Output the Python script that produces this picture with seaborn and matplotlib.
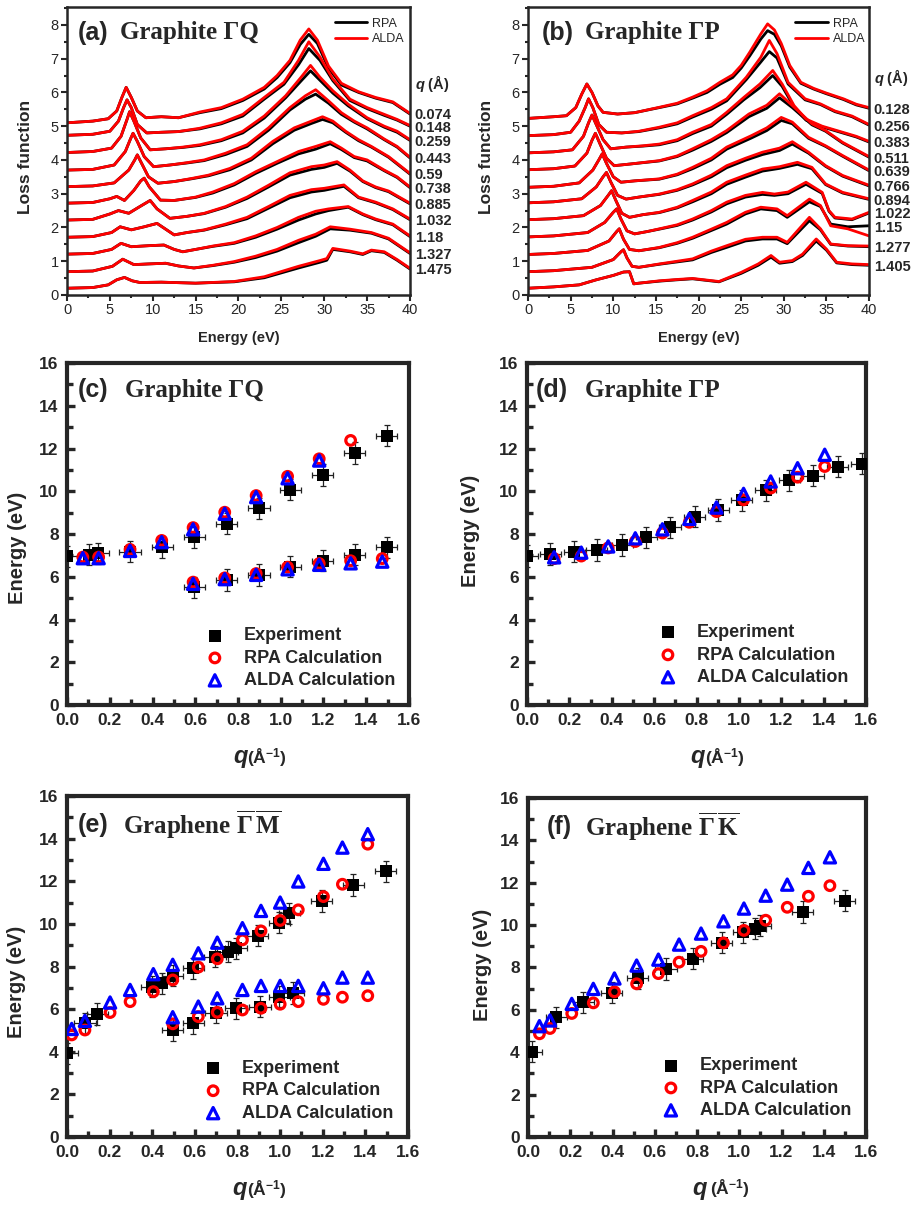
import numpy as np
import pandas as pd
import matplotlib
matplotlib.use("Agg")
import matplotlib.pyplot as plt
from matplotlib.lines import Line2D
from matplotlib.ticker import MultipleLocator
import seaborn as sns

sns.set_style("ticks")
plt.rcParams["font.family"] = ["Liberation Sans", "DejaVu Sans"]
plt.rcParams["mathtext.fontset"] = "custom"
plt.rcParams["mathtext.rm"] = "Liberation Sans:bold"
plt.rcParams["mathtext.it"] = "Liberation Sans:italic:bold"
plt.rcParams["mathtext.bf"] = "Liberation Serif:bold"

# ------------------------------------------------------------------
# Loss spectra of graphite along Gamma-Q (stacked, values as plotted)
# ------------------------------------------------------------------
gq_q_labels = ["0.074", "0.148", "0.259", "0.443", "0.59", "0.738",
               "0.885", "1.032", "1.18", "1.327", "1.475"]
gq_energy = [
    [0, 3, 4.8, 5.8, 6.4, 6.9, 7.5, 8.2, 9.2, 11, 13, 15.5, 18, 20.5, 23, 24.5, 26, 27.2, 28.2, 29.2, 30.5, 32, 34, 36, 38, 40],
    [0, 3, 5, 6, 6.6, 7.0, 7.5, 8.2, 9.3, 11, 13, 15.5, 18, 20.5, 23, 25.3, 27, 28.2, 29.5, 31, 33, 35, 37, 38.5, 40],
    [0, 3, 5.2, 6.3, 7.0, 7.3, 7.8, 8.6, 9.7, 11.5, 13.5, 15.5, 18, 20.5, 23, 25.5, 27.3, 28.4, 29.5, 31, 32.8, 35, 37, 38.5, 40],
    [0, 3, 5.5, 6.8, 7.4, 7.7, 8.2, 9.0, 10.1, 12, 14, 16, 18.5, 21, 23.5, 26, 27.8, 29.0, 30.5, 32, 33.5, 35, 37, 38.5, 40],
    [0, 3, 5.5, 7.2, 7.9, 8.2, 8.7, 9.5, 10.6, 12.5, 14.5, 16.5, 19, 21.5, 24, 26.5, 28.5, 29.8, 31, 32.5, 34, 35.5, 37.5, 40],
    [0, 3, 5.0, 5.8, 6.7, 7.8, 8.6, 9.0, 9.6, 10.9, 12.5, 15, 17, 19.5, 22, 24.5, 27, 29, 30.7, 32, 33.5, 35, 37, 38.5, 40],
    [0, 3, 5.0, 6.0, 7.2, 8.5, 9.7, 10.5, 12, 14, 16, 18.5, 21, 23.5, 26, 28.5, 30, 31.5, 33, 34.5, 36, 37.5, 40],
    [0, 3, 5.2, 6.2, 7.5, 9, 10.5, 11.5, 12.5, 14, 16, 18.5, 21, 23.5, 26, 28.5, 30, 32.3, 34, 36, 38, 40],
    [0, 3, 5.2, 6.3, 7.5, 9.5, 11.3, 12.5, 13.5, 15, 17, 19.5, 22, 24.5, 27, 29, 30.5, 32.8, 34.5, 36, 38, 40],
    [0, 3, 5.3, 6.5, 7.8, 9.5, 11.5, 13, 14.8, 17, 19.5, 22, 24.5, 27, 29, 30.7, 33, 35.5, 37.5, 40],
    [0, 3, 4.8, 5.8, 6.7, 7.6, 8.5, 11, 15, 19.5, 23, 27, 29.5, 30.3, 31, 33, 34.5, 35.5, 37, 38.5, 40],
]
gq_alda = [
    [5.10, 5.15, 5.22, 5.45, 5.85, 6.15, 5.85, 5.45, 5.25, 5.28, 5.25, 5.42, 5.55, 5.80, 6.15, 6.50, 6.95, 7.55, 7.88, 7.55, 6.78, 6.27, 6.02, 5.85, 5.72, 5.38],
    [4.73, 4.76, 4.85, 5.15, 5.55, 5.78, 5.55, 5.05, 4.80, 4.82, 4.84, 4.94, 5.10, 5.35, 5.85, 6.30, 6.95, 7.50, 7.05, 6.40, 5.80, 5.55, 5.35, 5.20, 5.02],
    [4.22, 4.25, 4.35, 4.70, 5.20, 5.43, 5.15, 4.65, 4.30, 4.33, 4.38, 4.45, 4.60, 4.85, 5.30, 5.90, 6.45, 6.80, 6.45, 6.05, 5.65, 5.25, 5.00, 4.85, 4.60],
    [3.70, 3.72, 3.85, 4.25, 4.62, 4.79, 4.55, 4.10, 3.80, 3.85, 3.92, 4.00, 4.20, 4.45, 4.95, 5.55, 5.90, 6.08, 5.75, 5.40, 5.15, 4.95, 4.62, 4.40, 4.08],
    [3.21, 3.23, 3.32, 3.70, 4.00, 4.15, 3.90, 3.50, 3.31, 3.36, 3.45, 3.55, 3.75, 4.05, 4.55, 4.95, 5.15, 5.28, 5.15, 4.85, 4.60, 4.40, 4.10, 3.60],
    [2.72, 2.74, 2.85, 2.92, 2.80, 3.10, 3.38, 3.46, 3.20, 2.81, 2.80, 2.90, 3.05, 3.30, 3.65, 3.95, 4.25, 4.40, 4.54, 4.35, 4.10, 4.00, 3.70, 3.50, 3.20],
    [2.22, 2.24, 2.40, 2.50, 2.42, 2.62, 2.80, 2.55, 2.27, 2.33, 2.42, 2.62, 2.90, 3.25, 3.62, 3.80, 3.85, 3.95, 3.70, 3.38, 3.20, 3.08, 2.72],
    [1.71, 1.73, 1.85, 2.02, 1.93, 2.02, 2.12, 1.95, 1.78, 1.85, 1.93, 2.10, 2.30, 2.62, 2.95, 3.12, 3.16, 3.26, 2.90, 2.75, 2.55, 2.25],
    [1.21, 1.23, 1.35, 1.53, 1.43, 1.46, 1.48, 1.35, 1.28, 1.35, 1.45, 1.55, 1.75, 2.00, 2.30, 2.48, 2.55, 2.62, 2.40, 2.25, 2.10, 1.75],
    [0.69, 0.71, 0.85, 1.06, 0.90, 0.92, 0.94, 0.86, 0.80, 0.88, 0.99, 1.15, 1.35, 1.62, 1.80, 2.02, 1.95, 1.85, 1.68, 1.25],
    [0.20, 0.22, 0.30, 0.45, 0.52, 0.42, 0.37, 0.38, 0.35, 0.40, 0.54, 0.85, 1.02, 1.08, 1.38, 1.30, 1.22, 1.33, 1.28, 1.05, 0.79],
]
gq_rpa = [
    [5.10, 5.15, 5.22, 5.45, 5.85, 6.15, 5.85, 5.45, 5.25, 5.28, 5.25, 5.40, 5.52, 5.76, 6.10, 6.44, 6.88, 7.42, 7.72, 7.45, 6.72, 6.22, 6.00, 5.83, 5.70, 5.36],
    [4.73, 4.76, 4.85, 5.15, 5.55, 5.78, 5.55, 5.05, 4.80, 4.82, 4.84, 4.92, 5.07, 5.30, 5.80, 6.24, 6.82, 7.30, 6.95, 6.35, 5.76, 5.52, 5.32, 5.18, 5.00],
    [4.22, 4.25, 4.35, 4.70, 5.20, 5.43, 5.15, 4.65, 4.30, 4.33, 4.37, 4.43, 4.57, 4.80, 5.24, 5.84, 6.34, 6.64, 6.36, 5.98, 5.60, 5.22, 4.97, 4.82, 4.58],
    [3.70, 3.72, 3.85, 4.25, 4.62, 4.79, 4.55, 4.10, 3.80, 3.85, 3.91, 3.98, 4.16, 4.40, 4.88, 5.48, 5.80, 5.95, 5.68, 5.35, 5.12, 4.92, 4.60, 4.38, 4.06],
    [3.21, 3.23, 3.32, 3.70, 4.00, 4.15, 3.90, 3.50, 3.31, 3.36, 3.44, 3.53, 3.71, 4.00, 4.48, 4.88, 5.08, 5.20, 5.10, 4.82, 4.57, 4.38, 4.08, 3.58],
    [2.72, 2.74, 2.85, 2.92, 2.80, 3.10, 3.38, 3.46, 3.20, 2.81, 2.80, 2.89, 3.02, 3.26, 3.60, 3.90, 4.18, 4.32, 4.48, 4.31, 4.07, 3.97, 3.68, 3.48, 3.18],
    [2.22, 2.24, 2.40, 2.50, 2.42, 2.62, 2.80, 2.55, 2.27, 2.33, 2.41, 2.60, 2.86, 3.20, 3.55, 3.72, 3.78, 3.90, 3.67, 3.36, 3.18, 3.06, 2.70],
    [1.71, 1.73, 1.85, 2.02, 1.93, 2.02, 2.12, 1.95, 1.78, 1.85, 1.92, 2.08, 2.26, 2.57, 2.88, 3.05, 3.10, 3.22, 2.88, 2.73, 2.53, 2.23],
    [1.21, 1.23, 1.35, 1.53, 1.43, 1.46, 1.48, 1.35, 1.28, 1.35, 1.44, 1.53, 1.71, 1.95, 2.22, 2.40, 2.50, 2.60, 2.38, 2.23, 2.08, 1.73],
    [0.69, 0.71, 0.85, 1.06, 0.90, 0.92, 0.94, 0.86, 0.80, 0.87, 0.97, 1.11, 1.30, 1.55, 1.74, 1.96, 1.92, 1.83, 1.66, 1.23],
    [0.20, 0.22, 0.30, 0.45, 0.52, 0.42, 0.37, 0.38, 0.35, 0.39, 0.51, 0.80, 0.97, 1.03, 1.35, 1.28, 1.20, 1.31, 1.26, 1.03, 0.77],
]

# ------------------------------------------------------------------
# Loss spectra of graphite along Gamma-P
# ------------------------------------------------------------------
gp_q_labels = ["0.128", "0.256", "0.383", "0.511", "0.639", "0.766",
               "0.894", "1.022", "1.15", "1.277", "1.405"]
gp_energy = [
    [0, 3, 4.5, 5.6, 6.3, 6.9, 7.5, 8.2, 8.8, 10.5, 12.5, 15.4, 17.5, 19.3, 21, 22.5, 24, 25, 26, 27.3, 28.1, 28.9, 29.7, 30.7, 32, 33.5, 35, 37, 38.5, 40],
    [0, 3, 5, 6, 6.7, 7.1, 7.6, 8.3, 9.2, 11, 13, 15.4, 17.5, 19.3, 21.5, 23.3, 25.6, 27.3, 28.3, 29.2, 30.5, 32.5, 34.3, 36, 38, 40],
    [0, 3, 5.2, 6.5, 7.1, 7.5, 8.0, 8.8, 9.7, 11.5, 13.5, 15.4, 17.5, 19.3, 21.5, 23.3, 25.3, 27.2, 28.7, 29.8, 31.2, 32.6, 34.5, 36.5, 38.5, 40],
    [0, 3, 5.5, 6.9, 7.5, 7.9, 8.4, 9.2, 10.1, 12, 15.4, 17.5, 19.3, 21.5, 23.3, 25.9, 28, 29.5, 31, 33.3, 34.9, 36.9, 40],
    [0, 3, 6, 7.6, 8.3, 8.7, 9.2, 10, 10.9, 12.5, 15.4, 17.5, 19.3, 21.5, 23.3, 26.2, 28, 29.7, 31, 32.9, 34.9, 36.9, 40],
    [0, 3, 6.3, 8.0, 8.8, 9.2, 9.7, 10.5, 11.5, 13, 15.4, 17.5, 19.3, 21.5, 23.3, 25.5, 27.5, 29.5, 31, 32.9, 34.9, 36.9, 40],
    [0, 3, 6.5, 8.5, 9.4, 9.8, 10.3, 11, 11.9, 13.5, 15.4, 17.5, 19.3, 21.5, 23.3, 25.5, 27.5, 29.5, 31.6, 33.3, 34.9, 36.9, 40],
    [0, 3, 7, 9, 10.0, 10.4, 10.9, 11.6, 12.5, 14, 15.4, 17.5, 19.3, 21.5, 23.3, 25.5, 27.5, 28.9, 30.5, 32.6, 34.5, 35.3, 36, 38, 40],
    [0, 3, 7, 9.5, 10.4, 10.7, 11.2, 11.9, 13, 15.4, 17.5, 19.3, 21.5, 23.3, 25.5, 27.3, 29.2, 30.4, 33, 34.3, 35.5, 37.5, 40],
    [0, 3, 7.5, 10, 10.9, 11.2, 11.6, 12.2, 13, 15.4, 17.5, 19.3, 21.5, 23.3, 25.5, 27.5, 29.2, 30.4, 33, 34.3, 35.5, 37.5, 40],
    [0, 3, 6, 8, 10, 11.2, 11.9, 12.4, 13, 15.4, 17.5, 19.3, 22.4, 25, 27, 28.5, 29.5, 31, 32.2, 33.8, 35, 36.2, 38, 40],
]
gp_alda = [
    [5.23, 5.28, 5.31, 5.55, 5.95, 6.25, 6.00, 5.60, 5.41, 5.36, 5.40, 5.56, 5.68, 5.86, 6.05, 6.30, 6.52, 6.80, 7.19, 7.73, 8.03, 7.85, 7.45, 6.80, 6.30, 6.12, 5.98, 5.81, 5.65, 5.55],
    [4.72, 4.75, 4.82, 5.15, 5.55, 5.81, 5.55, 5.05, 4.82, 4.80, 4.85, 4.97, 5.10, 5.31, 5.55, 5.81, 6.45, 7.04, 7.54, 7.15, 6.30, 5.81, 5.66, 5.45, 5.30, 5.05],
    [4.21, 4.24, 4.30, 4.70, 5.10, 5.33, 5.05, 4.60, 4.33, 4.38, 4.42, 4.47, 4.60, 4.82, 5.05, 5.41, 5.85, 6.25, 6.65, 6.25, 5.61, 5.21, 5.00, 4.85, 4.70, 4.55],
    [3.71, 3.74, 3.82, 4.20, 4.58, 4.79, 4.50, 4.05, 3.83, 3.88, 3.98, 4.12, 4.33, 4.60, 4.87, 5.36, 5.62, 5.96, 5.61, 5.07, 4.87, 4.52, 4.10],
    [3.19, 3.22, 3.32, 3.70, 4.00, 4.18, 3.90, 3.50, 3.34, 3.38, 3.44, 3.58, 3.78, 4.05, 4.38, 4.72, 4.95, 5.26, 5.12, 4.67, 4.42, 4.13, 3.70],
    [2.73, 2.76, 2.85, 3.20, 3.50, 3.63, 3.35, 2.95, 2.84, 2.90, 2.99, 3.12, 3.29, 3.55, 3.83, 4.05, 4.23, 4.35, 4.54, 4.23, 3.83, 3.54, 3.25],
    [2.23, 2.26, 2.35, 2.65, 2.95, 3.09, 2.80, 2.42, 2.30, 2.38, 2.45, 2.60, 2.80, 3.05, 3.34, 3.55, 3.73, 3.80, 3.93, 3.78, 3.29, 3.04, 2.85],
    [1.72, 1.75, 1.85, 2.15, 2.45, 2.55, 2.25, 1.90, 1.81, 1.88, 1.96, 2.08, 2.25, 2.50, 2.75, 2.95, 3.04, 2.99, 3.05, 3.34, 3.04, 2.50, 2.30, 2.25, 2.45],
    [1.20, 1.23, 1.32, 1.60, 1.88, 1.96, 1.65, 1.35, 1.31, 1.41, 1.55, 1.71, 1.95, 2.15, 2.45, 2.60, 2.55, 2.35, 2.84, 2.65, 2.05, 1.96, 1.75],
    [0.69, 0.72, 0.82, 1.05, 1.28, 1.34, 1.10, 0.85, 0.82, 0.92, 1.00, 1.07, 1.30, 1.46, 1.65, 1.71, 1.71, 1.56, 2.30, 1.96, 1.51, 1.46, 1.45],
    [0.20, 0.24, 0.30, 0.45, 0.58, 0.68, 0.69, 0.33, 0.35, 0.42, 0.46, 0.49, 0.40, 0.67, 0.92, 1.17, 0.97, 1.02, 1.21, 1.66, 1.36, 0.97, 0.92, 0.90],
]
gp_rpa = [
    [5.23, 5.28, 5.31, 5.55, 5.95, 6.25, 6.00, 5.60, 5.41, 5.36, 5.40, 5.55, 5.66, 5.83, 6.00, 6.24, 6.44, 6.72, 7.08, 7.58, 7.83, 7.72, 7.38, 6.75, 6.27, 6.10, 5.96, 5.79, 5.63, 5.53],
    [4.72, 4.75, 4.82, 5.15, 5.55, 5.81, 5.55, 5.05, 4.82, 4.80, 4.84, 4.95, 5.07, 5.27, 5.50, 5.75, 6.38, 6.90, 7.21, 7.02, 6.25, 5.78, 5.64, 5.43, 5.28, 5.03],
    [4.21, 4.24, 4.30, 4.70, 5.10, 5.33, 5.05, 4.60, 4.33, 4.38, 4.41, 4.45, 4.57, 4.78, 5.00, 5.35, 5.78, 6.14, 6.50, 6.18, 5.57, 5.18, 4.98, 4.83, 4.68, 4.53],
    [3.71, 3.74, 3.82, 4.20, 4.58, 4.79, 4.50, 4.05, 3.83, 3.88, 3.97, 4.10, 4.29, 4.55, 4.81, 5.28, 5.53, 5.84, 5.55, 5.04, 4.85, 4.50, 4.08],
    [3.19, 3.22, 3.32, 3.70, 4.00, 4.18, 3.90, 3.50, 3.34, 3.38, 3.43, 3.56, 3.74, 4.00, 4.32, 4.65, 4.87, 5.17, 5.07, 4.64, 4.40, 4.11, 3.68],
    [2.73, 2.76, 2.85, 3.20, 3.50, 3.63, 3.35, 2.95, 2.84, 2.90, 2.98, 3.10, 3.26, 3.50, 3.77, 3.99, 4.16, 4.28, 4.47, 4.20, 3.81, 3.52, 3.23],
    [2.23, 2.26, 2.35, 2.65, 2.95, 3.09, 2.80, 2.42, 2.30, 2.38, 2.44, 2.58, 2.76, 3.00, 3.28, 3.49, 3.67, 3.75, 3.87, 3.74, 3.27, 3.02, 2.83],
    [1.72, 1.75, 1.85, 2.15, 2.45, 2.55, 2.25, 1.90, 1.81, 1.88, 1.95, 2.06, 2.22, 2.46, 2.70, 2.90, 2.98, 2.95, 3.00, 3.28, 3.01, 2.48, 2.28, 2.23, 2.43],
    [1.20, 1.23, 1.32, 1.60, 1.88, 1.96, 1.65, 1.35, 1.31, 1.40, 1.53, 1.68, 1.91, 2.10, 2.40, 2.55, 2.50, 2.30, 2.76, 2.62, 2.10, 2.02, 2.05],
    [0.69, 0.72, 0.82, 1.05, 1.28, 1.34, 1.10, 0.85, 0.82, 0.91, 0.98, 1.04, 1.26, 1.41, 1.60, 1.66, 1.66, 1.52, 2.20, 1.93, 1.50, 1.45, 1.43],
    [0.20, 0.24, 0.30, 0.45, 0.58, 0.68, 0.69, 0.33, 0.35, 0.41, 0.45, 0.48, 0.39, 0.64, 0.88, 1.12, 0.94, 0.99, 1.17, 1.60, 1.33, 0.95, 0.90, 0.88],
]

# ------------------------------------------------------------------
# Plasmon dispersion: experiment (with error bars) and calculations
# ------------------------------------------------------------------
Q_ERR = 0.05   # momentum-transfer uncertainty (1/Angstrom)
E_ERR = 0.5    # energy uncertainty (eV)

# (c) graphite Gamma-Q
c_exp_q = [0.0, 0.104, 0.146, 0.295, 0.446, 0.596, 0.747, 0.898, 1.045, 1.196, 1.346, 1.496,
           0.596, 0.747, 0.898, 1.045, 1.196, 1.346, 1.496]
c_exp_e = [6.95, 7.03, 7.10, 7.18, 7.38, 7.85, 8.48, 9.20, 10.08, 10.77, 11.79, 12.60,
           5.50, 5.85, 6.09, 6.48, 6.76, 7.03, 7.38]
c_rpa_q = [0.074, 0.148, 0.295, 0.443, 0.59, 0.738, 0.885, 1.032, 1.18, 1.327,
           0.59, 0.738, 0.885, 1.032, 1.18, 1.327, 1.475]
c_rpa_e = [6.92, 6.92, 7.28, 7.70, 8.30, 9.02, 9.80, 10.70, 11.52, 12.38,
           5.75, 5.95, 6.15, 6.45, 6.62, 6.75, 6.85]
c_alda_q = [0.074, 0.148, 0.295, 0.443, 0.59, 0.738, 0.885, 1.032, 1.18,
            0.59, 0.738, 0.885, 1.032, 1.18, 1.327, 1.475]
c_alda_e = [6.87, 6.87, 7.21, 7.62, 8.22, 8.95, 9.73, 10.61, 11.44,
            5.67, 5.89, 6.09, 6.35, 6.56, 6.63, 6.71]

# (d) graphite Gamma-P
d_exp_q = [0.0, 0.109, 0.223, 0.329, 0.45, 0.562, 0.675, 0.791, 0.903, 1.013, 1.127, 1.238, 1.351, 1.467, 1.58]
d_exp_e = [6.98, 7.07, 7.18, 7.26, 7.49, 7.85, 8.32, 8.82, 9.13, 9.57, 10.04, 10.51, 10.73, 11.16, 11.29]
d_calc_q = [0.128, 0.256, 0.383, 0.511, 0.639, 0.766, 0.894, 1.022, 1.15, 1.277, 1.405]
d_rpa_e = [6.85, 6.97, 7.35, 7.65, 8.05, 8.55, 9.05, 9.60, 10.15, 10.66, 11.16]
d_alda_e = [6.91, 7.13, 7.42, 7.80, 8.22, 8.71, 9.24, 9.88, 10.46, 11.08, 11.71]

# (e) graphene Gamma-M
e_exp_q = [0.0, 0.084, 0.142, 0.397, 0.447, 0.496, 0.593, 0.694, 0.754, 0.793, 0.895, 0.996, 1.043, 1.195, 1.344, 1.495,
           0.496, 0.593, 0.699, 0.793, 0.906, 0.996, 1.062]
e_exp_e = [3.93, 5.34, 5.77, 7.06, 7.21, 7.57, 7.92, 8.46, 8.70, 8.86, 9.44, 10.06, 10.50, 11.08, 11.83, 12.46,
           5.02, 5.34, 5.84, 6.04, 6.12, 6.59, 6.75]
e_calc_q = [0.022, 0.084, 0.202, 0.296, 0.405, 0.496, 0.616, 0.705, 0.823, 0.91, 1.0, 1.085, 1.203, 1.292, 1.411,
            0.496, 0.616, 0.705, 0.823, 0.91, 1.0, 1.085, 1.203, 1.292, 1.411]
e_rpa_e = [4.79, 5.02, 5.84, 6.35, 6.82, 7.37, 7.97, 8.36, 9.25, 9.67, 10.16, 10.66, 11.28, 11.86, 13.74,
           5.31, 5.65, 5.85, 5.96, 6.04, 6.23, 6.35, 6.46, 6.56, 6.63]
e_alda_e = [5.07, 5.45, 6.31, 6.90, 7.64, 8.08, 8.62, 9.12, 9.80, 10.61, 11.00, 11.99, 12.82, 13.58, 14.21,
            5.62, 6.12, 6.51, 6.90, 7.09, 7.09, 7.09, 6.98, 7.48, 7.48]

# (f) graphene Gamma-K
f_exp_q = [0.018, 0.133, 0.262, 0.396, 0.519, 0.653, 0.78, 0.917, 1.019, 1.075, 1.098, 1.30, 1.50]
f_exp_e = [4.02, 5.65, 6.36, 6.80, 7.48, 7.93, 8.42, 9.16, 9.66, 9.82, 9.98, 10.62, 11.16]
f_calc_q = [0.054, 0.104, 0.207, 0.309, 0.409, 0.514, 0.617, 0.715, 0.819, 0.925, 1.022, 1.125, 1.227, 1.327, 1.429]
f_rpa_e = [4.87, 5.12, 5.83, 6.33, 6.85, 7.23, 7.71, 8.25, 8.76, 9.16, 9.75, 10.23, 10.84, 11.36, 11.86]
f_alda_e = [5.23, 5.50, 6.28, 6.99, 7.48, 8.09, 8.37, 9.08, 9.60, 10.18, 10.78, 11.39, 11.91, 12.70, 13.20]

SANS = ["Liberation Sans", "DejaVu Sans"]
SERIF = ["Liberation Serif", "DejaVu Serif"]


def spectra_frame(energy, rpa, alda):
    rows = []
    for k, (e, r, a) in enumerate(zip(energy, rpa, alda)):
        assert len(e) == len(r) == len(a), k
        for ei, ri, ai in zip(e, r, a):
            rows.append((k, ei, "RPA", ri))
            rows.append((k, ei, "ALDA", ai))
    return pd.DataFrame(rows, columns=["curve", "energy", "calc", "loss"])


def panel_title(ax, tag, name, x_tag, x_name, y):
    ax.text(x_tag, y, tag, transform=ax.transAxes, fontsize=18, fontweight="bold",
            family=SANS, va="center", ha="left")
    ax.text(x_name, y, name, transform=ax.transAxes, fontsize=18, fontweight="bold",
            family=SERIF, va="center", ha="left")


def draw_spectra(ax, labels, energy, rpa, alda, tag, name, x_tag, x_name, leg_x):
    df = spectra_frame(energy, rpa, alda)
    for calc, col in (("RPA", "black"), ("ALDA", "red")):
        sns.lineplot(data=df[df["calc"] == calc], x="energy", y="loss", units="curve",
                     estimator=None, sort=False, color=col, lw=2.0, ax=ax, legend=False,
                     solid_joinstyle="round")
    ax.set_xlim(0, 40)
    ax.set_ylim(0, 8.53)
    ax.set_xticks(np.arange(0, 41, 5))
    ax.set_yticks(np.arange(0, 9, 1))
    ax.xaxis.set_minor_locator(MultipleLocator(2.5))
    ax.yaxis.set_minor_locator(MultipleLocator(0.5))
    ax.tick_params(which="both", direction="out", width=1.5, labelsize=10.5,
                   top=False, right=False, pad=2)
    ax.tick_params(which="major", length=4)
    ax.tick_params(which="minor", length=2.5)
    for s in ax.spines.values():
        s.set_linewidth(1.8)
    ax.set_xlabel("Energy (eV)", fontsize=10.5, fontweight="bold")
    ax.set_ylabel("Loss function", fontsize=12.5, fontweight="bold")
    ax.xaxis.set_label_coords(0.5, -0.125)
    ax.yaxis.set_label_coords(-0.10, 0.48)

    ytr = ax.get_yaxis_transform()
    for k, lab in enumerate(labels):
        y_end = max(rpa[k][-1], alda[k][-1])
        ax.text(1.014, y_end - 0.06, lab, transform=ytr, fontsize=10.5,
                fontweight="bold", va="center", ha="left")
    first = max(rpa[0][-1], alda[0][-1])
    ax.annotate(r"$q$ (Å)", xy=(1.014, first - 0.06), xycoords=ytr,
                xytext=(0, 23), textcoords="offset points", fontsize=10.5,
                fontweight="bold", va="center", ha="left")

    handles = [Line2D([], [], color="black", lw=2.0), Line2D([], [], color="red", lw=2.0)]
    ax.legend(handles, ["RPA", "ALDA"], loc="center left", bbox_to_anchor=(leg_x, 0.915),
              frameon=False, fontsize=9, handlelength=2.6, handletextpad=0.4,
              labelspacing=0.3, borderpad=0, borderaxespad=0)
    panel_title(ax, tag, name, x_tag, x_name, 0.91)


def draw_dispersion(ax, exp_q, exp_e, rpa_q, rpa_e, alda_q, alda_e,
                    tag, name, x_tag, x_name, title_y, ylab_x, ylab_y,
                    q_x, unit_x, leg_x, leg_y):
    ax.errorbar(exp_q, exp_e, xerr=Q_ERR, yerr=E_ERR, fmt="none", ecolor="#222222",
                elinewidth=0.9, capsize=2.5, capthick=0.9, zorder=2)
    sns.scatterplot(x=exp_q, y=exp_e, marker="s", color="black", s=85, linewidth=0,
                    label="Experiment", ax=ax, zorder=3)
    sns.scatterplot(x=rpa_q, y=rpa_e, marker="o", color="red", facecolor="none",
                    edgecolor="red", s=48, linewidth=2.3, label="RPA Calculation",
                    ax=ax, zorder=4)
    sns.scatterplot(x=alda_q, y=alda_e, marker="^", color="blue", facecolor="none",
                    edgecolor="blue", s=66, linewidth=2.3, label="ALDA Calculation",
                    ax=ax, zorder=5)
    ax.set_xlim(0, 1.6)
    ax.set_ylim(0, 16)
    xt = np.round(np.arange(0, 1.61, 0.2), 1)
    ax.set_xticks(xt)
    ax.set_xticklabels([f"{v:.1f}" for v in xt], fontsize=12.5, fontweight="bold")
    yt = np.arange(0, 17, 2)
    ax.set_yticks(yt)
    ax.set_yticklabels([f"{v:d}" for v in yt], fontsize=12.5, fontweight="bold")
    ax.xaxis.set_minor_locator(MultipleLocator(0.1))
    ax.yaxis.set_minor_locator(MultipleLocator(1))
    ax.tick_params(which="both", direction="in", width=2.4, top=False, right=False, pad=6)
    ax.tick_params(which="major", length=6)
    ax.tick_params(which="minor", length=4)
    for s in ax.spines.values():
        s.set_linewidth(3.0)
    ax.set_xlabel("")
    ax.set_ylabel("Energy (eV)", fontsize=14.5, fontweight="bold")
    ax.yaxis.set_label_coords(ylab_x, ylab_y)
    ax.text(q_x, -0.171, r"$q$", transform=ax.transAxes, fontsize=17,
            va="baseline", ha="left")
    ax.text(unit_x, -0.171, r"(Å$^{-1}$)", transform=ax.transAxes, fontsize=12.5,
            fontweight="bold", va="baseline", ha="left")
    ax.legend(loc="center left", bbox_to_anchor=(leg_x, leg_y), frameon=False,
              prop={"family": SANS, "weight": "bold", "size": 13},
              handlelength=1.0, handletextpad=1.1, labelspacing=0.3,
              borderpad=0, borderaxespad=0)
    panel_title(ax, tag, name, x_tag, x_name, title_y)


fig = plt.figure(figsize=(9.18, 12.07), dpi=100)
ax_a = fig.add_axes([0.0730, 0.7556, 0.3736, 0.2386])
ax_b = fig.add_axes([0.5752, 0.7556, 0.3715, 0.2386])
ax_c = fig.add_axes([0.0730, 0.4159, 0.3725, 0.2833])
ax_d = fig.add_axes([0.5741, 0.4159, 0.3693, 0.2833])
ax_e = fig.add_axes([0.0730, 0.0580, 0.3715, 0.2825])
ax_f = fig.add_axes([0.5752, 0.0580, 0.3682, 0.2809])

draw_spectra(ax_a, gq_q_labels, gq_energy, gq_rpa, gq_alda,
             "(a)", "Graphite ΓQ", 0.03, 0.155, 0.781)
draw_spectra(ax_b, gp_q_labels, gp_energy, gp_rpa, gp_alda,
             "(b)", "Graphite ΓP", 0.041, 0.167, 0.783)

draw_dispersion(ax_c, c_exp_q, c_exp_e, c_rpa_q, c_rpa_e, c_alda_q, c_alda_e,
                "(c)", "Graphite ΓQ", 0.032, 0.17, 0.921, -0.118, 0.46,
                0.485, 0.526, 0.406, 0.137)
draw_dispersion(ax_d, d_exp_q, d_exp_e, d_calc_q, d_rpa_e, d_calc_q, d_alda_e,
                "(d)", "Graphite ΓP", 0.027, 0.171, 0.921, -0.139, 0.51,
                0.481, 0.525, 0.389, 0.146)
draw_dispersion(ax_e, e_exp_q, e_exp_e, e_calc_q, e_rpa_e, e_calc_q, e_alda_e,
                "(e)", r"Graphene $\mathbf{\overline{\Gamma}\,\overline{M}}$", 0.032, 0.164,
                0.915, -0.120, 0.455, 0.484, 0.528, 0.402, 0.135)
draw_dispersion(ax_f, f_exp_q, f_exp_e, f_calc_q, f_rpa_e, f_calc_q, f_alda_e,
                "(f)", r"Graphene $\mathbf{\overline{\Gamma}\,\overline{K}}$", 0.056, 0.169,
                0.914, -0.107, 0.507, 0.485, 0.538, 0.396, 0.144)

fig.savefig("out.png", dpi=100)
